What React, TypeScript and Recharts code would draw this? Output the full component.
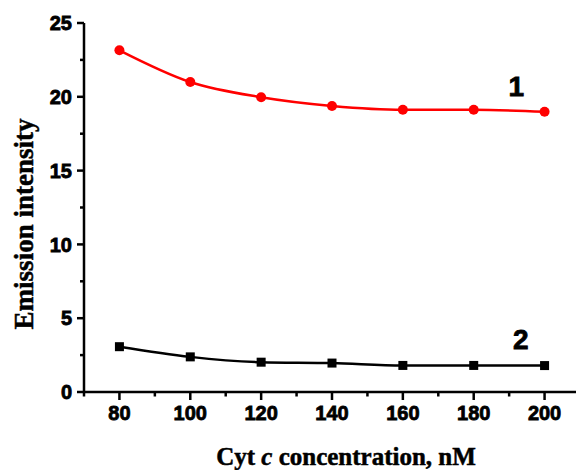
import React from 'react';
import { LineChart, Line, XAxis, YAxis, ReferenceDot, Label, Customized } from 'recharts';

const concentrations = [80, 100, 120, 140, 160, 180, 200];
const curve1 = [23.15, 21.0, 19.97, 19.38, 19.12, 19.12, 18.99];
const curve2 = [3.07, 2.38, 2.02, 1.96, 1.8, 1.8, 1.79];

const xTicks = [70, 80, 90, 100, 110, 120, 130, 140, 150, 160, 170, 180, 190, 200, 210];
const yTicks = [0, 2.5, 5, 7.5, 10, 12.5, 15, 17.5, 20, 22.5, 25];

const data = concentrations.map((c, i) => ({ conc: c, s1: curve1[i], s2: curve2[i] }));

const tickFont = '"Liberation Sans", Arial, sans-serif';
const titleFont = '"Liberation Serif", "Times New Roman", serif';

const XTick = (props: any) => {
    const { x, y, payload } = props;
    const major = (payload.value - 80) % 20 === 0;
    return (
        <g>
            <line x1={x} x2={x} y1={y} y2={y + (major ? 8 : 4.5)} stroke="#000" strokeWidth={2.5} />
            {major && (
                <text x={x} y={y + 28} textAnchor="middle" fontFamily={tickFont} fontWeight={700} fontSize={20} fill="#000" stroke="#000" strokeWidth={0.8}>
                    {payload.value}
                </text>
            )}
        </g>
    );
};

const YTick = (props: any) => {
    const { x, y, payload } = props;
    const major = payload.value % 5 === 0;
    return (
        <g>
            <line x1={x - (major ? 7 : 4)} x2={x} y1={y} y2={y} stroke="#000" strokeWidth={2.5} />
            {major && (
                <text x={x - 12} y={y} dy="0.36em" textAnchor="end" fontFamily={tickFont} fontWeight={700} fontSize={20} fill="#000" stroke="#000" strokeWidth={0.8}>
                    {payload.value}
                </text>
            )}
        </g>
    );
};

const SquareDot = (props: any) => {
    const { cx, cy } = props;
    if (cx == null || cy == null) return null;
    return <rect x={cx - 4.5} y={cy - 4.5} width={9} height={9} fill="#000" />;
};

const Titles = () => (
    <g fontFamily={titleFont} fontWeight="bold" fill="#000" stroke="#000" strokeWidth={0.5}>
        <text x={346} y={465} textAnchor="middle" fontSize={25}>
            Cyt <tspan fontStyle="italic">c</tspan> concentration, nM
        </text>
        <text x={33} y={224} textAnchor="middle" fontSize={27} transform="rotate(-90, 33, 224)">
            Emission intensity
        </text>
    </g>
);

const App = () => {
    return (
        <div style={{ position: 'absolute', left: 0, top: 0, width: 576, height: 470, overflow: 'hidden', background: '#fff' }}>
            <LineChart width={580} height={470} data={data} margin={{ top: 23, right: 0, bottom: 0, left: 0 }}>
                <XAxis
                    dataKey="conc"
                    type="number"
                    domain={[70, 210]}
                    ticks={xTicks}
                    interval={0}
                    height={78}
                    tickSize={0}
                    tickMargin={0}
                    tickLine={false}
                    tick={<XTick />}
                    axisLine={{ stroke: '#000', strokeWidth: 2.5 }}
                />
                <YAxis
                    type="number"
                    domain={[0, 25]}
                    ticks={yTicks}
                    interval={0}
                    width={84}
                    tickSize={0}
                    tickMargin={0}
                    tickLine={false}
                    tick={<YTick />}
                    axisLine={{ stroke: '#000', strokeWidth: 2.5 }}
                />
                <Line
                    type="monotone"
                    dataKey="s1"
                    stroke="#ff0000"
                    strokeWidth={2.5}
                    dot={{ r: 5, fill: '#ff0000', stroke: 'none' }}
                    isAnimationActive={false}
                />
                <Line
                    type="monotone"
                    dataKey="s2"
                    stroke="#000"
                    strokeWidth={2.5}
                    dot={<SquareDot />}
                    isAnimationActive={false}
                />
                <ReferenceDot x={192} y={20.7} r={0} fill="none" stroke="none">
                    <Label value="1" position="center" fontSize={28} fontWeight="bold" fontFamily={tickFont} fill="#000" stroke="#000" strokeWidth={0.8} />
                </ReferenceDot>
                <ReferenceDot x={193.3} y={3.6} r={0} fill="none" stroke="none">
                    <Label value="2" position="center" fontSize={28} fontWeight="bold" fontFamily={tickFont} fill="#000" stroke="#000" strokeWidth={0.8} />
                </ReferenceDot>
                <Customized component={Titles} />
            </LineChart>
        </div>
    );
};

export default App;
